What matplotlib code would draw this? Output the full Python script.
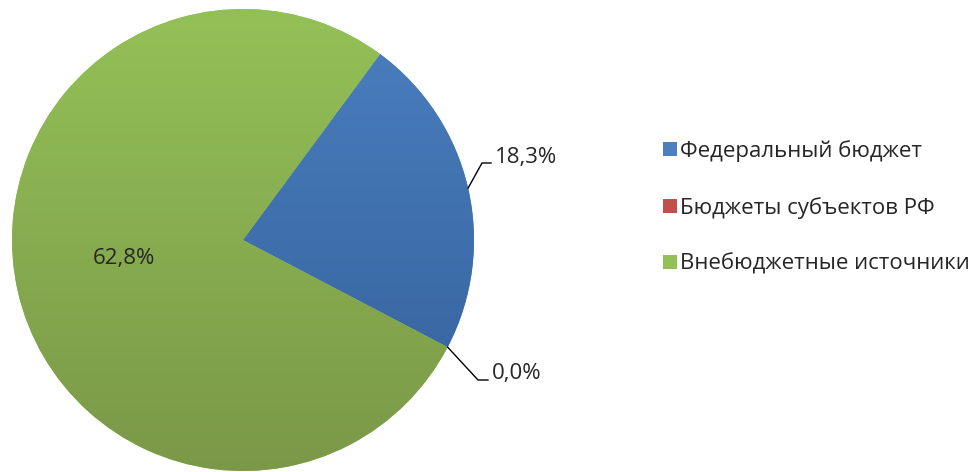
import numpy as np
import matplotlib
matplotlib.use("Agg")
import matplotlib.pyplot as plt
from matplotlib.patches import Patch
from matplotlib.colors import LinearSegmentedColormap

plt.rcParams['font.family'] = ['Open Sans', 'DejaVu Sans']

categories = ["Федеральный бюджет", "Бюджеты субъектов РФ", "Внебюджетные источники"]
values = [18.3, 0.0, 62.8]
labels = ["18,3%", "0,0%", "62,8%"]
colors_top = ["#4b7fbf", "#c0504d", "#93c157"]
colors_bot = ["#33609a", "#8f3a37", "#7b9848"]

W, H = 974, 472
fig = plt.figure(figsize=(W / 100, H / 100), dpi=100)
cx, cy, r = 243, 232, 231
ax = fig.add_axes([(cx - r) / W, (cy - r) / H, 2 * r / W, 2 * r / H])

wedges, _ = ax.pie(values, startangle=53.6, counterclock=False, radius=1,
                   colors=colors_top, wedgeprops=dict(linewidth=0))
ax.set_aspect('equal')
ax.axis('off')

# gradient fills
for w, ct, cb in zip(wedges, colors_top, colors_bot):
    cmap = LinearSegmentedColormap.from_list("g", [cb, ct])
    grad = np.linspace(0, 1, 256).reshape(-1, 1)
    im = ax.imshow(grad, extent=[-1, 1, -1, 1], origin='lower', cmap=cmap,
                   aspect='auto', zorder=w.get_zorder() + 0.1)
    im.set_clip_path(w)
ax.set_xlim(-1, 1)
ax.set_ylim(-1, 1)

# data labels
total = sum(values)
angles = []
a = 53.6
for v in values:
    span = v / total * 360
    angles.append(np.deg2rad(a - span / 2))
    a -= span

def px(x, y):
    return ((x - cx) / r, (H - y - cy) / r)

FS = 16
tc = '#262626'

# 18,3%
th = angles[0]
p0 = (np.cos(th), np.sin(th))
x1, y1 = px(482, 163)
x2, y2 = px(491, 163)
ax.plot([p0[0], x1, x2], [p0[1], y1, y2], color='black', lw=1, clip_on=False, zorder=5)
ax.text(x2 + 0.015, y2 + 0.025, labels[0], fontsize=FS, color=tc, va='center', ha='left')

# 0,0%
th = angles[1]
p0 = (np.cos(th), np.sin(th))
x1, y1 = px(478, 380)
x2, y2 = px(488, 380)
ax.plot([p0[0], x1, x2], [p0[1], y1, y2], color='black', lw=1, clip_on=False, zorder=5)
ax.text(x2 + 0.015, y2 + 0.03, labels[1], fontsize=FS, color=tc, va='center', ha='left')

# 62,8% inside
th = angles[2]
ax.text(0.53 * np.cos(th), 0.53 * np.sin(th) + 0.04, labels[2], fontsize=FS, color=tc,
        va='center', ha='center')

handles = [Patch(facecolor=c, edgecolor='none') for c in colors_top]
fig.legend(handles, categories, loc='upper left', bbox_to_anchor=(654 / W, 1 - 131 / H),
           frameon=False, fontsize=16, labelspacing=1.57, handlelength=0.62,
           handleheight=0.62, handletextpad=0.15, labelcolor=tc, borderaxespad=0)

fig.savefig("out.png", dpi=100)
